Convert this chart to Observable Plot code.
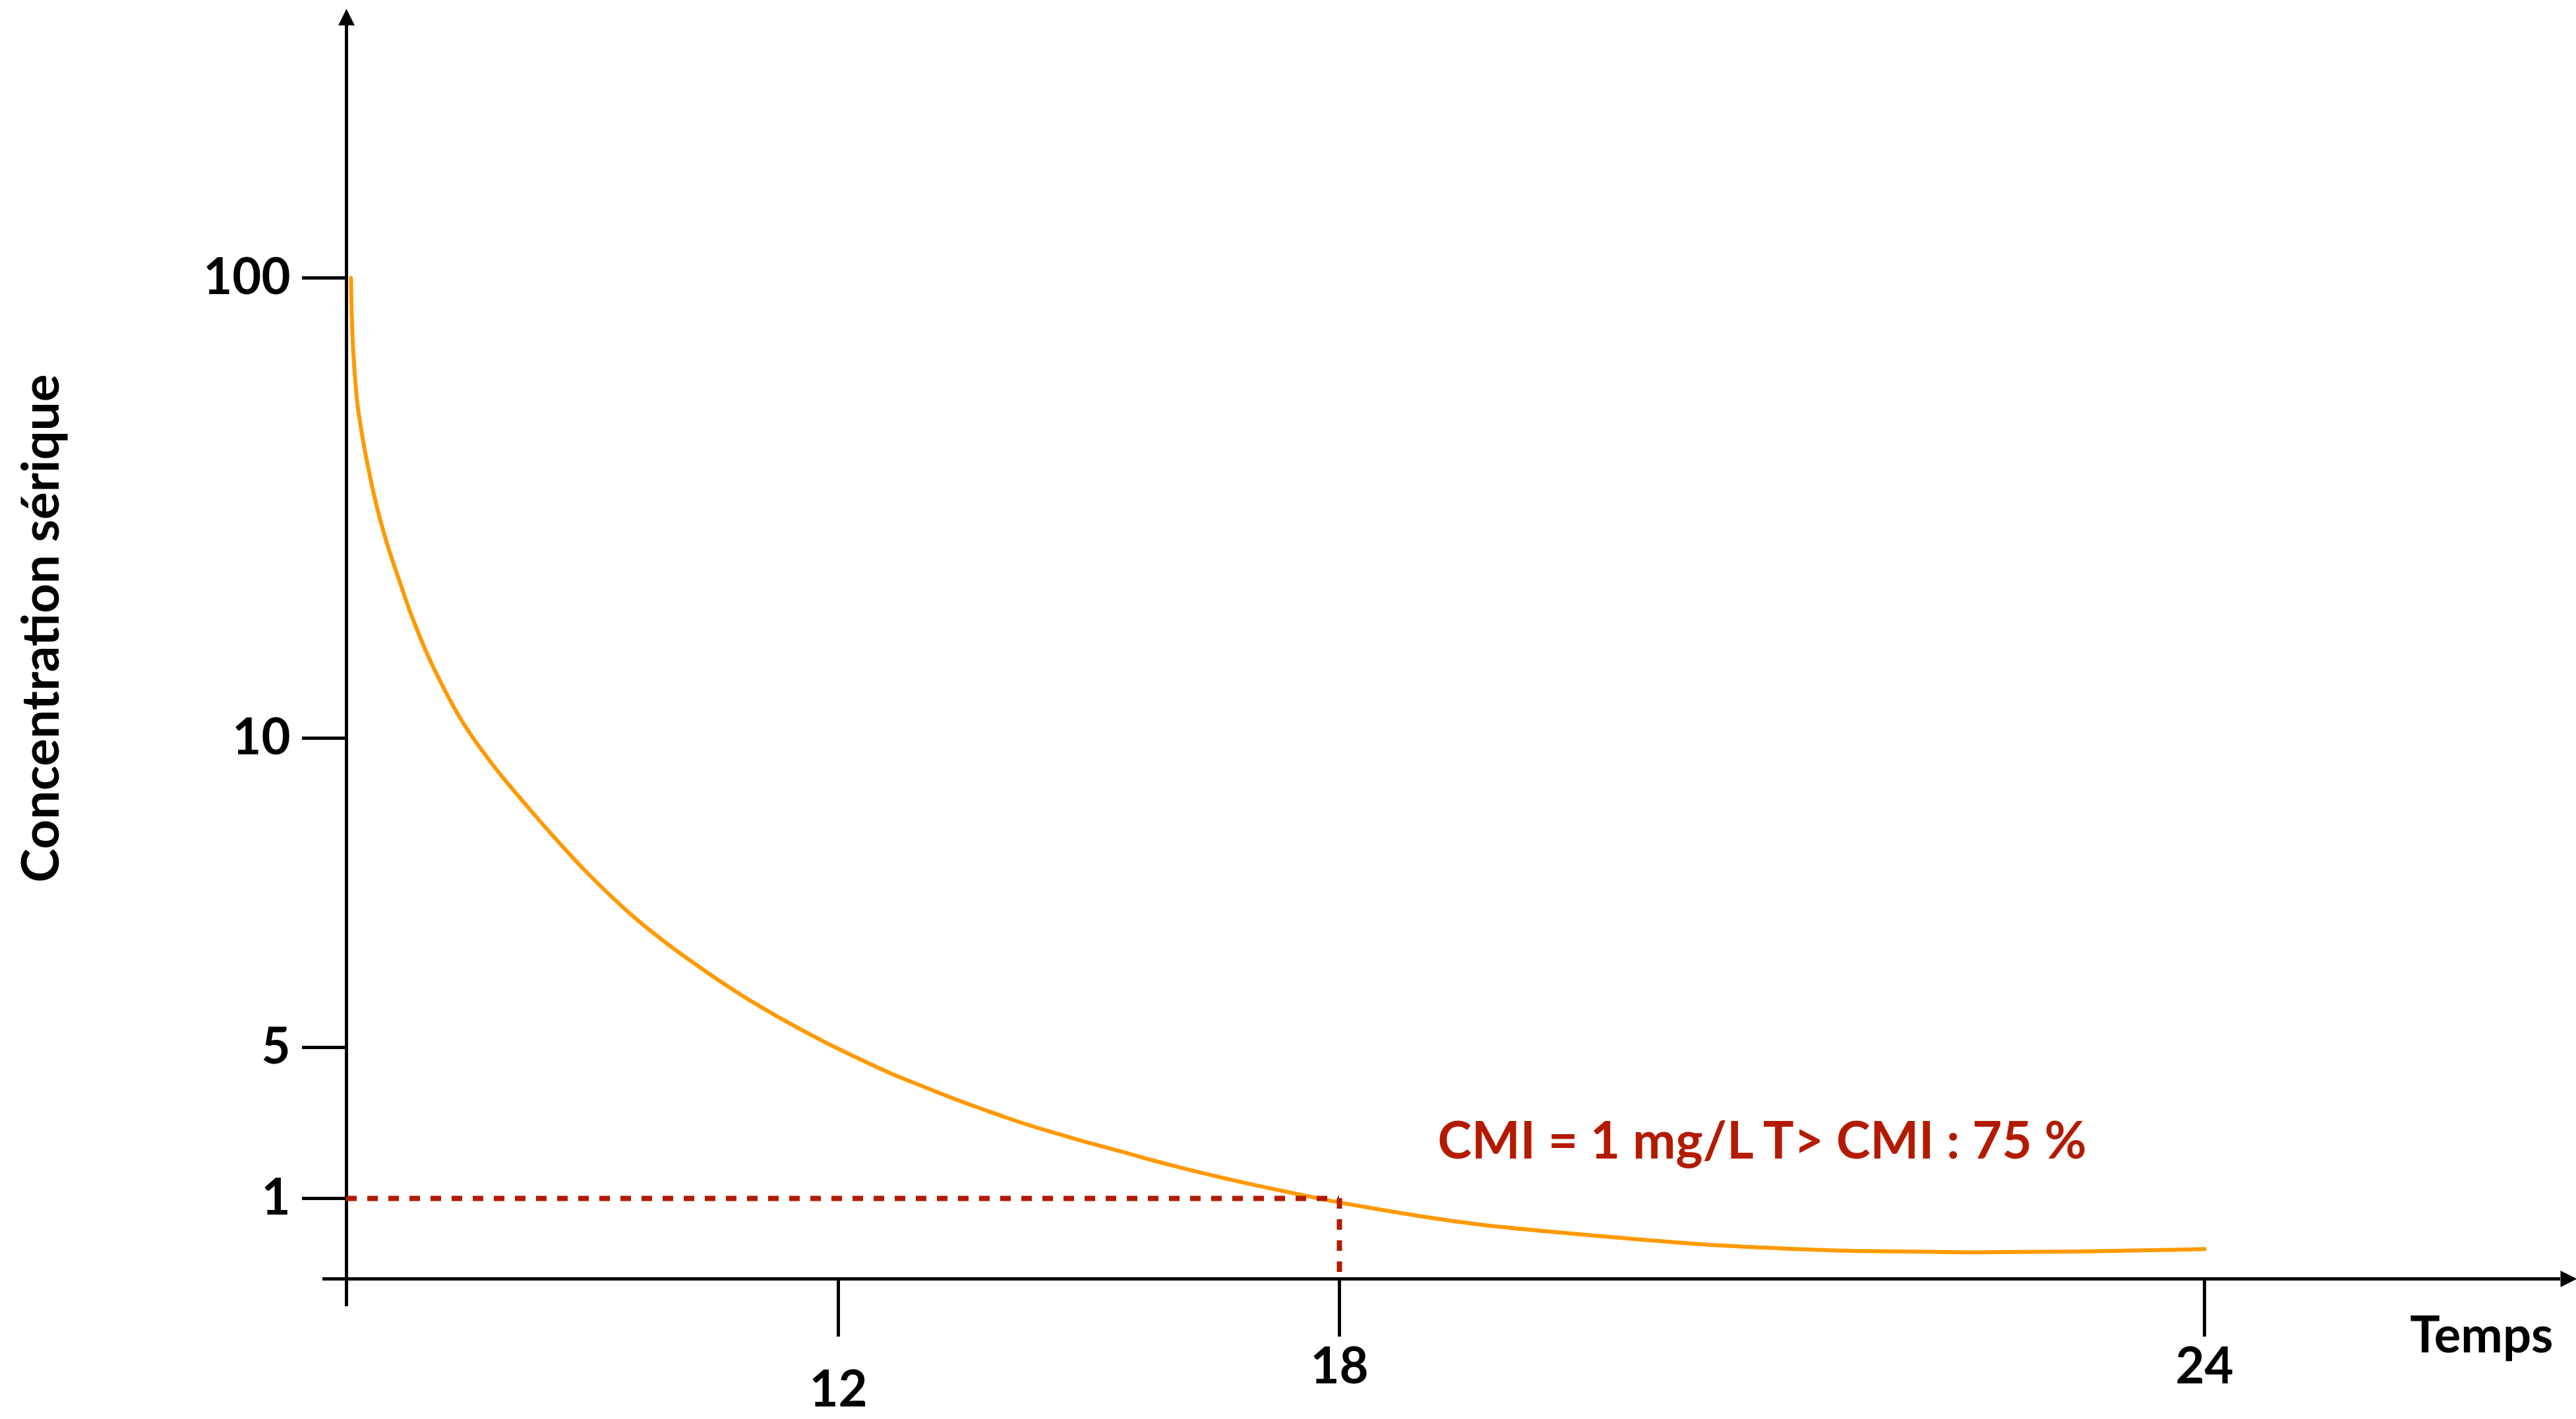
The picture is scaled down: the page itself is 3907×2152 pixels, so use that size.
<!DOCTYPE html>
<html>
<head>
<meta charset="utf-8">
<script src="https://cdn.jsdelivr.net/npm/d3@7"></script>
<script src="https://cdn.jsdelivr.net/npm/@observablehq/plot@0.6"></script>
<style>
  html, body { margin: 0; padding: 0; background: #fff; }
  #chart { width: 3907px; height: 2152px; }
</style>
</head>
<body>
<div id="chart"></div>
<script>
// Serum concentration after a dose, schematic axes (hours / mg/L).
const timeH = [0.11, 0.13, 0.18, 0.27, 0.35, 0.44, 0.6, 0.72, 0.91, 1.07, 1.29, 1.6, 2.07, 2.86, 3.64,
  4.42, 5.12, 5.82, 6.84, 7.64, 8.61, 9.65, 10.7, 11.66, 12.23, 12.62, 13.02, 13.41, 13.81, 14.2,
  14.6, 14.99, 15.44, 15.78, 16.31, 16.83, 17.36, 18, 18.24, 18.54, 19.0, 19.57, 20.15, 20.6, 21.06,
  21.52, 21.97, 22.43, 23.12, 24];
const concentration = [100, 92.4, 83.7, 75.2, 70.9, 66.6, 60.2, 55.9, 50.2, 46.0, 40.8, 33.7, 24.7, 12.8, 9.51,
  8.89, 8.36, 7.86, 7.21, 6.77, 6.3, 5.84, 5.43, 5.09, 4.72, 4.32, 3.96, 3.62, 3.3, 3.0,
  2.73, 2.48, 2.21, 2.0, 1.7, 1.43, 1.18, 0.95, 0.875, 0.785, 0.67, 0.57, 0.48, 0.42, 0.38,
  0.35, 0.34, 0.33, 0.34, 0.37];

// Breakpoints of the (non-uniform) axes and their tick labels
const timeBreaks = [0, 12, 18, 24];
const concBreaks = [0, 1, 5, 10, 100];
const timeTicks = [12, 18, 24];
const concTicks = [100, 10, 5, 1];

// Minimum inhibitory concentration and time spent above it
const cmi = 1;           // mg/L
const cmiTime = 18;      // h
const timeAboveCmi = 75; // %

const curve = timeH.map((t, i) => ({t, c: concentration[i]}));

const ORANGE = "#FF9900";
const RED = "#B31B00";
const FONT = "Lato, 'Open Sans', sans-serif";
const FS = 76;

// filled arrow head, tip pointing up before rotation
const arrowHead = {
  draw(ctx, size) {
    const r = Math.sqrt(size / Math.PI);
    ctx.moveTo(0, -r);
    ctx.lineTo(r, r);
    ctx.lineTo(-r, r);
    ctx.closePath();
  }
};

const tickText = {fontSize: FS, fontWeight: 700, strokeWidth: 5, label: null, stroke: "#000"};

const chart = Plot.plot({
  width: 3907,
  height: 2152,
  marginLeft: 525,
  marginRight: 24,
  marginTop: 38,
  marginBottom: 213,
  style: {fontFamily: FONT, fontWeight: 700, color: "#000", background: "#fff", maxWidth: "none"},
  // piecewise-linear position scales
  x: {type: "linear", domain: timeBreaks, range: [525, 1271, 2031, 3343]},
  y: {type: "linear", domain: concBreaks, range: [1939, 1817, 1588, 1119, 421]},
  marks: [
    // axis lines with arrow heads
    Plot.ruleX([0], {stroke: "#000", strokeWidth: 5, insetBottom: -42}),
    Plot.ruleY([0], {stroke: "#000", strokeWidth: 5, insetLeft: -36}),
    Plot.dot([0], {x: d => d, frameAnchor: "top", symbol: arrowHead, r: 12.5, fill: "#000", stroke: null, dy: -12.5}),
    Plot.dot([0], {y: d => d, frameAnchor: "right", symbol: arrowHead, r: 12.5, fill: "#000", stroke: null, rotate: 90, dx: 12.5}),

    // ticks and tick labels
    Plot.axisY({ticks: concTicks, anchor: "left", tickSize: 67, tickPadding: 18, tickFormat: d => String(d), ...tickText}),
    Plot.axisX({ticks: timeTicks.filter(d => d === 12), anchor: "bottom", tickSize: 88, tickPadding: 52, ...tickText}),
    Plot.axisX({ticks: timeTicks.filter(d => d !== 12), anchor: "bottom", tickSize: 88, tickPadding: 17, ...tickText}),

    // concentration curve
    Plot.line(curve, {x: "t", y: "c", stroke: ORANGE, strokeWidth: 6, curve: "catmull-rom"}),

    // CMI guide lines
    Plot.ruleY([cmi], {x1: 0, x2: cmiTime, stroke: RED, strokeWidth: 8, strokeDasharray: "16,16"}),
    Plot.ruleX([cmiTime], {y1: cmi, y2: 0, stroke: RED, strokeWidth: 8, strokeDasharray: "16,16"}),

    Plot.text([`CMI = ${cmi} mg/L T> CMI : ${timeAboveCmi} %`], {
      x: cmiTime, y: cmi, text: d => d, textAnchor: "start", dx: 149, dy: -85,
      fill: RED, fontSize: 78, fontWeight: 700
    }),

    // axis titles
    Plot.text(["Concentration sérique"], {
      frameAnchor: "left", text: d => d, textAnchor: "middle", rotate: -90, dx: -461, dy: -36,
      fill: "#000", fontSize: 78, fontWeight: 700
    }),
    Plot.text(["Temps"], {
      frameAnchor: "bottom-right", text: d => d, textAnchor: "end", dx: -11, dy: 111,
      fill: "#000", fontSize: FS, fontWeight: 700
    })
  ]
});

document.getElementById("chart").appendChild(chart);
</script>
</body>
</html>
